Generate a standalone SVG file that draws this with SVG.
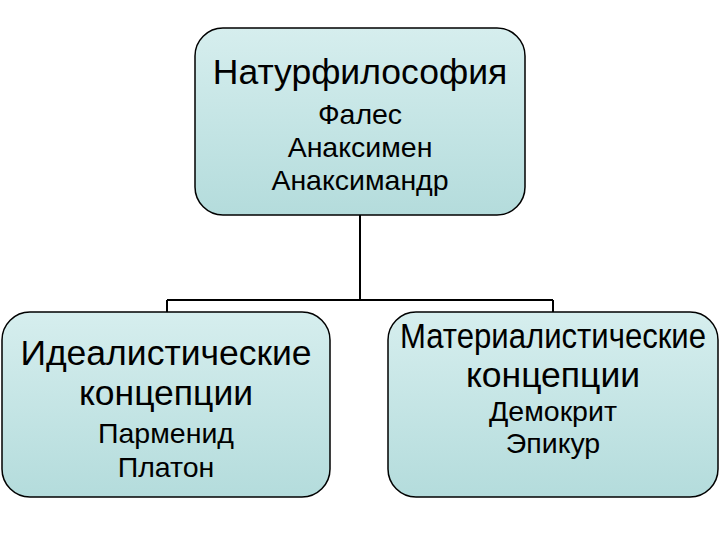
<svg xmlns="http://www.w3.org/2000/svg" width="720" height="540" viewBox="0 0 720 540">
<defs>
<linearGradient id="g" x1="0" y1="0" x2="0" y2="1">
<stop offset="0" stop-color="#d6eeee"/><stop offset="1" stop-color="#b4dcdc"/>
</linearGradient>
<style>
.box{fill:url(#g);stroke:#000;stroke-width:1.5}
text{font-family:"Liberation Sans",Arial,sans-serif;text-anchor:middle;fill:#000}
.h{font-size:35.5px}.s{font-size:28.5px}
.c{fill:none;stroke:#000;stroke-width:2}
</style>
</defs>
<rect width="720" height="540" fill="#fff"/>
<g id="connectors">
<path class="c" d="M360 215V300M167 300H553M167 300V312M553 300V312"/>
</g>
<g id="top">
<rect class="box" x="195" y="28" width="330" height="187" rx="28"/>
<text class="h" x="360" y="84">Натурфилософия</text>
<text class="s" x="360" y="124">Фалес</text>
<text class="s" x="360" y="157">Анаксимен</text>
<text class="s" x="360" y="190">Анаксимандр</text>
</g>
<g id="left">
<rect class="box" x="2" y="312" width="328" height="185" rx="28"/>
<text class="h" x="166" y="365">Идеалистические</text>
<text class="h" x="166" y="405">концепции</text>
<text class="s" x="166" y="443">Парменид</text>
<text class="s" x="166" y="477">Платон</text>
</g>
<g id="right">
<rect class="box" x="388" y="312" width="330" height="185" rx="28"/>
<text class="h" x="553" y="348" textLength="306" lengthAdjust="spacingAndGlyphs">Материалистические</text>
<text class="h" x="553" y="387">концепции</text>
<text class="s" x="553" y="421">Демокрит</text>
<text class="s" x="553" y="453">Эпикур</text>
</g>
</svg>
